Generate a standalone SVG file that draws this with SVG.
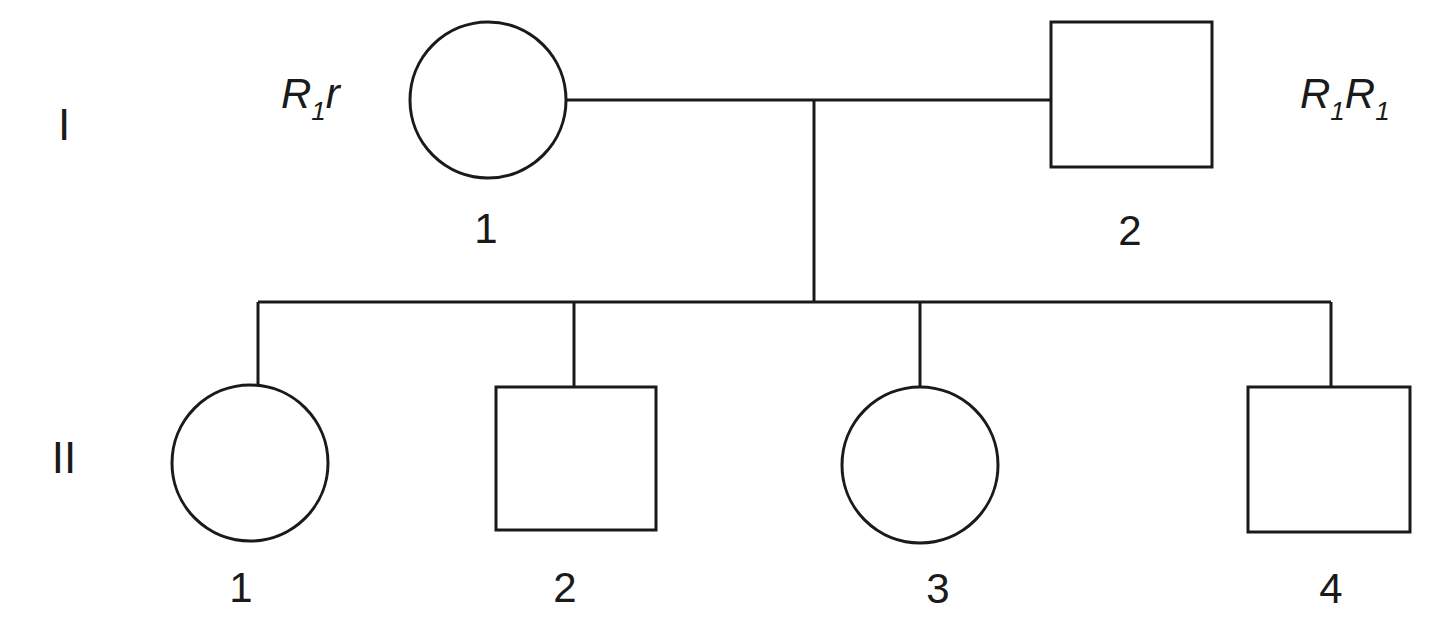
<svg xmlns="http://www.w3.org/2000/svg" width="1440" height="627" viewBox="0 0 1440 627">
<style>
.shape{fill:#fff;stroke:#1a1a1a;stroke-width:3}
.line{fill:none;stroke:#1a1a1a;stroke-width:3}
.num{font-family:"Liberation Sans",Arial,sans-serif;font-size:42px;fill:#1a1a1a;text-anchor:middle}
.gen{font-family:"Liberation Sans",Arial,sans-serif;font-size:44px;fill:#1a1a1a;text-anchor:middle}
.geno{font-family:"Liberation Sans",Arial,sans-serif;font-size:42px;font-style:italic;fill:#1a1a1a}
.sub{font-size:26px}
</style>
<rect width="1440" height="627" fill="#fff"/>
<g id="connectors">
<line class="line" x1="567" y1="100" x2="1051" y2="100"/>
<line class="line" x1="814" y1="100" x2="814" y2="302"/>
<line class="line" x1="258" y1="302" x2="1331" y2="302"/>
<line class="line" x1="258" y1="302" x2="258" y2="386"/>
<line class="line" x1="574" y1="302" x2="574" y2="387"/>
<line class="line" x1="920" y1="302" x2="920" y2="387"/>
<line class="line" x1="1331" y1="302" x2="1331" y2="387"/>
</g>
<g id="gen-labels">
<text class="gen" x="64" y="140">I</text>
<text class="gen" x="64" y="473">II</text>
</g>
<g id="I-1">
<ellipse class="shape" cx="488" cy="100" rx="78" ry="78"/>
<text class="num" x="486" y="243">1</text>
<text class="geno" x="281" y="108">R<tspan class="sub" dy="12">1</tspan><tspan dy="-12">r</tspan></text>
</g>
<g id="I-2">
<rect class="shape" x="1051" y="22" width="161" height="145"/>
<text class="num" x="1130" y="245">2</text>
<text class="geno" x="1300" y="108">R<tspan class="sub" dy="12">1</tspan><tspan dy="-12">R</tspan><tspan class="sub" dy="12">1</tspan></text>
</g>
<g id="II-1">
<ellipse class="shape" cx="250" cy="463" rx="78" ry="78"/>
<text class="num" x="241" y="602">1</text>
</g>
<g id="II-2">
<rect class="shape" x="496" y="387" width="160" height="143"/>
<text class="num" x="565" y="602">2</text>
</g>
<g id="II-3">
<ellipse class="shape" cx="920" cy="465" rx="78" ry="78"/>
<text class="num" x="938" y="603">3</text>
</g>
<g id="II-4">
<rect class="shape" x="1248" y="387" width="162" height="145"/>
<text class="num" x="1331" y="603">4</text>
</g>
</svg>
